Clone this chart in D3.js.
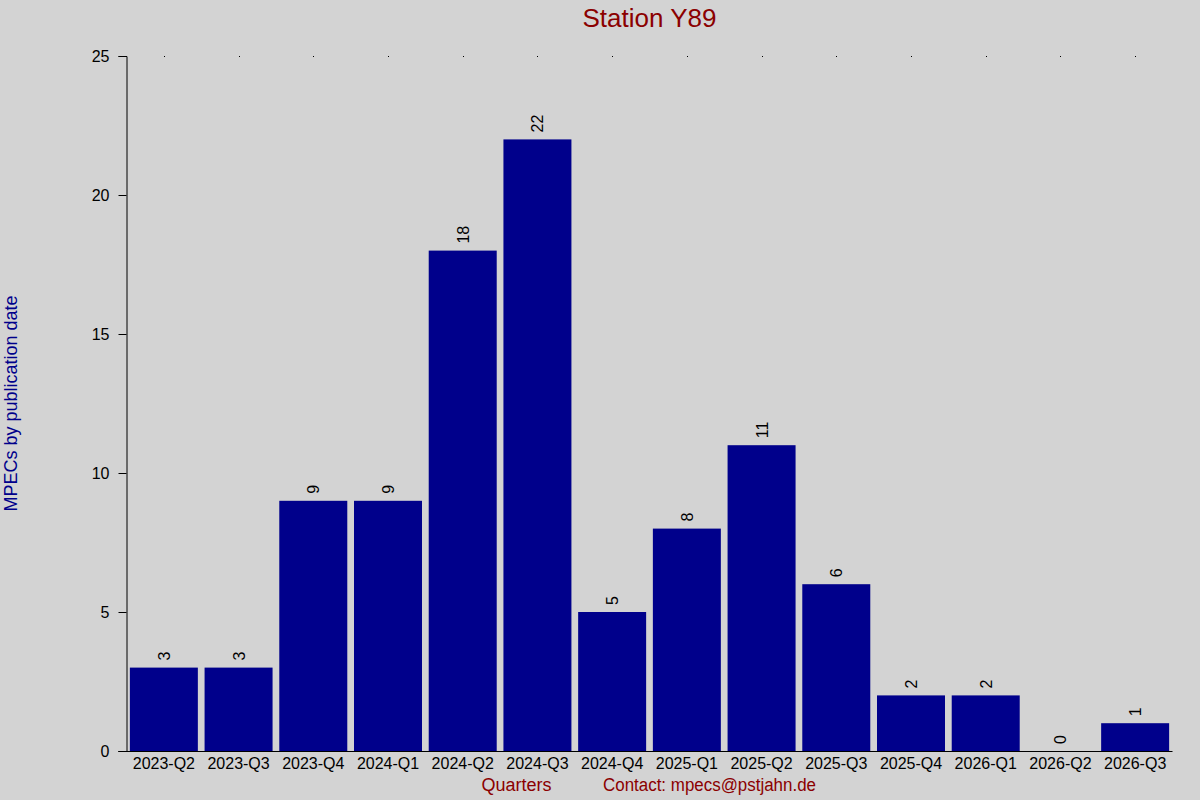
<!DOCTYPE html>
<html lang="en">
<head>
  <meta charset="UTF-8">
  <title>Station Y89</title>
  <script src="https://d3js.org/d3.v7.min.js"></script>
  <style>
    body { margin: 0; background: #d3d3d3; }
    svg { display: block; font-family: "Liberation Sans", Arial, sans-serif; }
  </style>
</head>
<body>
  <svg width="1200" height="800"></svg>

  <script>
    const quarters = ["2023-Q2", "2023-Q3", "2023-Q4", "2024-Q1", "2024-Q2", "2024-Q3", "2024-Q4",
                      "2025-Q1", "2025-Q2", "2025-Q3", "2025-Q4", "2026-Q1", "2026-Q2", "2026-Q3"];
    const counts = [3, 3, 9, 9, 18, 22, 5, 8, 11, 6, 2, 2, 0, 1];
    const yTicks = [0, 5, 10, 15, 20, 25];

    const svg = d3.select("svg");
    const plotLeft = 126.5, plotRight = 1172.5, plotTop = 56, plotBottom = 751;
    const fontFam = "Liberation Sans, Arial, sans-serif";

    svg.append("rect").attr("width", 1200).attr("height", 800).attr("fill", "#d3d3d3");

    const x = d3.scaleBand()
      .domain(quarters)
      .range([plotLeft, plotRight])
      .paddingInner(0.09)
      .paddingOuter(0.045);

    const y = d3.scaleLinear().domain([0, 25]).range([plotBottom, plotTop]);

    const data = quarters.map((q, i) => ({ q, v: counts[i] }));

    // bars
    svg.append("g")
      .selectAll("rect")
      .data(data)
      .join("rect")
      .attr("x", d => x(d.q))
      .attr("y", d => y(d.v))
      .attr("width", x.bandwidth())
      .attr("height", d => y(0) - y(d.v))
      .attr("fill", "#00008b");

    // value labels, rotated
    svg.append("g")
      .selectAll("text")
      .data(data)
      .join("text")
      .attr("transform", d => `translate(${x(d.q) + x.bandwidth() / 2 + 6},${y(d.v) - 7}) rotate(-90)`)
      .attr("font-size", 16)
      .attr("fill", "#000")
      .text(d => d.v);

    // y axis
    const yAxis = svg.append("g")
      .attr("transform", `translate(${plotLeft},0)`)
      .call(d3.axisLeft(y).tickValues(yTicks).tickSize(8).tickPadding(9));
    yAxis.select(".domain").attr("stroke", "#000");
    yAxis.selectAll("text").attr("font-size", 16).attr("font-family", fontFam);

    // x axis
    const xAxis = svg.append("g")
      .attr("transform", `translate(0,${plotBottom})`)
      .call(d3.axisBottom(x).tickSize(0).tickPadding(7));
    xAxis.select(".domain").attr("d", `M${plotLeft - 8},0.5H${plotRight}`);
    xAxis.selectAll("text").attr("font-size", 16).attr("font-family", fontFam);

    // small dots at top
    svg.append("g")
      .selectAll("rect")
      .data(quarters)
      .join("rect")
      .attr("x", d => Math.round(x(d) + x.bandwidth() / 2))
      .attr("y", plotTop)
      .attr("width", 1)
      .attr("height", 1)
      .attr("fill", "#000");

    // title
    svg.append("text")
      .attr("x", (plotLeft + plotRight) / 2)
      .attr("y", 27)
      .attr("text-anchor", "middle")
      .attr("font-size", 26)
      .attr("fill", "#8b0000")
      .text("Station Y89");

    // y label
    svg.append("text")
      .attr("transform", `translate(17,${(plotTop + plotBottom) / 2}) rotate(-90)`)
      .attr("text-anchor", "middle")
      .attr("font-size", 18)
      .attr("fill", "#00008b")
      .text("MPECs by publication date");

    // x label + contact
    svg.append("text")
      .attr("x", 516.5)
      .attr("y", 791)
      .attr("text-anchor", "middle")
      .attr("font-size", 18)
      .attr("fill", "#8b0000")
      .text("Quarters");

    svg.append("text")
      .attr("x", 603)
      .attr("y", 791)
      .attr("font-size", 18)
      .attr("textLength", 213)
      .attr("lengthAdjust", "spacingAndGlyphs")
      .attr("fill", "#8b0000")
      .text("Contact: mpecs@pstjahn.de");
  </script>
</body>
</html>
